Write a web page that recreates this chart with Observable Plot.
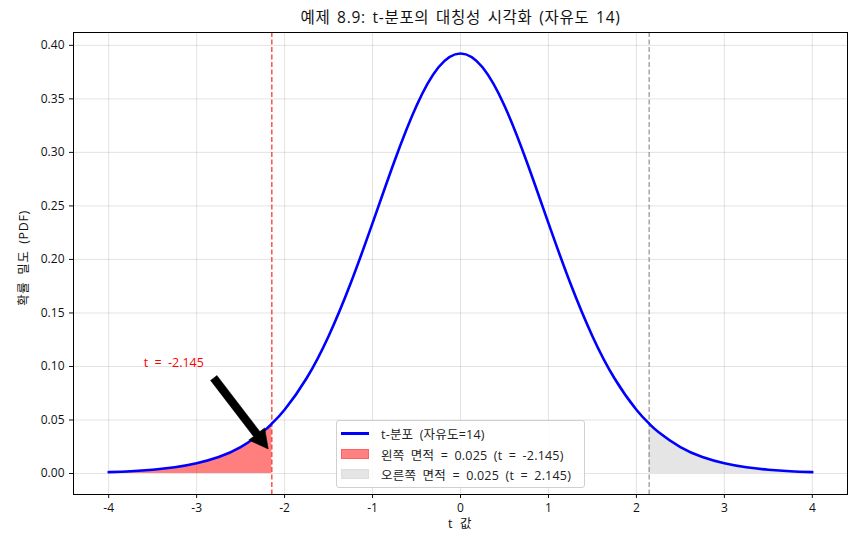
<!DOCTYPE html>
<html><head><meta charset="utf-8">
<script src="https://cdn.jsdelivr.net/npm/d3@7"></script>
<script src="https://cdn.jsdelivr.net/npm/@observablehq/plot@0.6"></script>
<style>
body{margin:0;background:#fff;font-family:'Open Sans','Noto Sans CJK KR',sans-serif;}
#wrap{position:relative;width:849px;height:533px;overflow:hidden;}
#title{position:absolute;left:73px;width:775px;top:5px;text-align:center;font-size:15.5px;color:#111;word-spacing:2px;letter-spacing:0.7px;}
#chart{position:absolute;left:0;top:30px;}
#chart text{word-spacing:3px;}
.lab{position:absolute;font-size:12.5px;color:#111;white-space:nowrap;letter-spacing:0.6px;word-spacing:3px;}
#legend{position:absolute;left:336px;top:420px;width:247px;height:66px;border:1px solid #d0d0d0;border-radius:3px;background:rgba(255,255,255,0.85);font-size:12.5px;color:#222;}
.row{position:absolute;left:4px;height:18px;display:flex;align-items:center;white-space:nowrap;word-spacing:3px;letter-spacing:0.2px;}
.sw{width:28px;height:10px;margin-right:12px;box-sizing:border-box;}
</style></head>
<body>
<div id="wrap">
<div id="title">예제 8.9: t-분포의 대칭성 시각화 (자유도 14)</div>
<div id="chart"></div>
<div class="lab" id="ylab" style="left:22px;top:258px;transform:translate(-50%,-50%) rotate(-90deg);">확률 밀도 (PDF)</div>
<div class="lab" style="left:460px;top:522px;transform:translate(-50%,-50%);">t 값</div>
<div id="legend">
 <div class="row" style="top:3px;"><div class="sw" style="height:3px;background:#0000ff;"></div><span>t-분포 (자유도=14)</span></div>
 <div class="row" style="top:24px;"><div class="sw" style="background:#ff8080;border:1px solid #ff6060;"></div><span>왼쪽 면적 = 0.025 (t = -2.145)</span></div>
 <div class="row" style="top:44px;"><div class="sw" style="background:#e5e5e5;border:1px solid #dddddd;"></div><span>오른쪽 면적 = 0.025 (t = 2.145)</span></div>
</div>
</div>
<script>
// Data (t distribution, df = 14)
const tValues = [-4,-3.75,-3.5,-3.25,-3,-2.75,-2.5,-2.25,-2.145,-2,-1.75,-1.5,-1.25,-1,-0.75,-0.5,-0.25,0,0.25,0.5,0.75,1,1.25,1.5,1.75,2,2.145,2.25,2.5,2.75,3,3.25,3.5,3.75,4];
const pdfValues = [0.0013,0.0021,0.0035,0.0058,0.0095,0.0154,0.0246,0.0388,0.0466,0.0596,0.0890,0.1283,0.1775,0.2339,0.2920,0.3436,0.3795,0.3924,0.3795,0.3436,0.2920,0.2339,0.1775,0.1283,0.0890,0.0596,0.0466,0.0388,0.0246,0.0154,0.0095,0.0058,0.0035,0.0021,0.0013];
const tCritical = 2.145;
const xTicks = [-4,-3,-2,-1,0,1,2,3,4];
const yTicks = [0,0.05,0.10,0.15,0.20,0.25,0.30,0.35,0.40];
const annotationText = ["t = -2.145"];
const annotationPos = [-3.6, 0.1037];
const arrowTail = [-2.80, 0.0888];
const arrowTip = [-2.18, 0.0224];

const data = tValues.map((t,i)=>({t, p: pdfValues[i]}));
const left = data.filter(d=>d.t <= -tCritical);
const right = data.filter(d=>d.t >= tCritical);

function arrowMark(index, scales) {
  const x0 = scales.x(arrowTail[0]), y0 = scales.y(arrowTail[1]);
  const x1 = scales.x(arrowTip[0]), y1 = scales.y(arrowTip[1]);
  const dx = x1-x0, dy = y1-y0, L = Math.hypot(dx,dy);
  const ux = dx/L, uy = dy/L, nx = -uy, ny = ux;
  const w = 4, h = 10, hl = 19;
  const bx = x1-ux*hl, by = y1-uy*hl;
  const pts = [[x0+nx*w,y0+ny*w],[bx+nx*w,by+ny*w],[bx+nx*h,by+ny*h],[x1,y1],[bx-nx*h,by-ny*h],[bx-nx*w,by-ny*w],[x0-nx*w,y0-ny*w]];
  const g = d3.create("svg:path")
    .attr("d","M"+pts.map(p=>p.join(",")).join("L")+"Z")
    .attr("fill","#000").attr("stroke","#000").attr("stroke-width",0.5);
  return g.node();
}

const chart = Plot.plot({
  width: 849, height: 503,
  marginLeft: 73, marginRight: 2, marginTop: 2, marginBottom: 39,
  style: {fontFamily: "'Open Sans','Noto Sans CJK KR',sans-serif", fontSize: "12px", color: "#111", background: "#fff"},
  x: {domain: [-4.4, 4.4], ticks: xTicks, tickFormat: d => String(d), tickSize: 4, tickPadding: 5, label: null},
  y: {domain: [-0.0196, 0.412], ticks: yTicks, tickFormat: d3.format(".2f"), tickSize: 4, tickPadding: 5, label: null},
  marks: [
    Plot.ruleX(xTicks, {stroke: "#b0b0b0", strokeOpacity: 0.35}),
    Plot.ruleY(yTicks, {stroke: "#b0b0b0", strokeOpacity: 0.35}),
    Plot.areaY(left, {x: "t", y: "p", fill: "#ff0000", fillOpacity: 0.5, curve: "natural"}),
    Plot.areaY(right, {x: "t", y: "p", fill: "#cccccc", fillOpacity: 0.5, curve: "natural"}),
    Plot.ruleX([-tCritical], {stroke: "#ff0000", strokeOpacity: 0.8, strokeWidth: 1.3, strokeDasharray: "5,2.5"}),
    Plot.ruleX([tCritical], {stroke: "#808080", strokeOpacity: 0.8, strokeWidth: 1.3, strokeDasharray: "5,2.5"}),
    Plot.line(data, {x: "t", y: "p", stroke: "#0000ff", strokeWidth: 2.6, curve: "natural"}),
    arrowMark,
    Plot.text(annotationText, {x: annotationPos[0], y: annotationPos[1], text: d => d, fill: "#ff0000", textAnchor: "start", fontSize: 12.5}),
    Plot.frame({stroke: "#000", strokeWidth: 1})
  ]
});
document.getElementById("chart").appendChild(chart);
</script>
</body></html>
